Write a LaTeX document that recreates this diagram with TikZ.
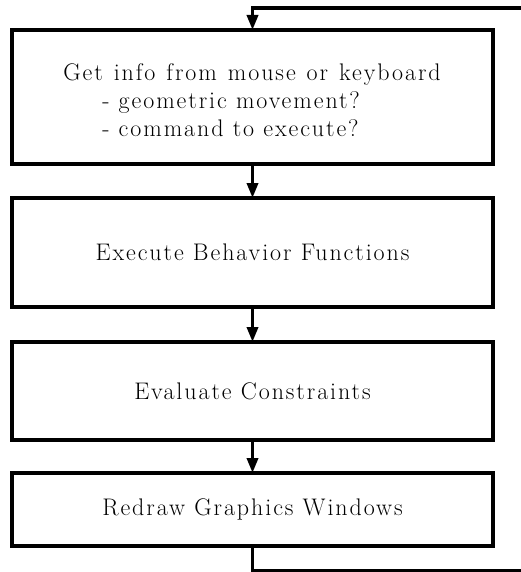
\documentclass[tikz,border=0pt]{standalone}
\usepackage{fontspec}
\setmainfont[LetterSpace=8]{Latin Modern Roman}
\usetikzlibrary{arrows.meta}
\tikzset{
  stepbox/.style={draw, line width=3.5pt, inner sep=0pt, outer sep=0pt, font=\fontsize{24}{28}\selectfont},
  flow/.style={line width=3.5pt, -{Triangle[width=11pt,length=15pt]}},
  loopline/.style={line width=3.5pt}
}
\begin{document}
\begin{tikzpicture}[x=1pt,y=1pt]
\useasboundingbox (0,0) rectangle (521,-572);
\node[stepbox, minimum width=481pt, minimum height=134pt] (b1) at (252.5,-97) {};
\node[font=\fontsize{24}{28}\selectfont, align=left] (t1) at (252,-100) {{\spaceskip=11pt\relax Get info from mouse or keyboard}\\\hspace{39pt}- geometric movement?\\\hspace{39pt}- command to execute?};
\node[stepbox, minimum width=481pt, minimum height=109pt] (b2) at (252.5,-252.5) {Execute Behavior Functions};
\node[stepbox, minimum width=481pt, minimum height=98pt] (b3) at (252.5,-391) {Evaluate Constraints};
\node[stepbox, minimum width=481pt, minimum height=73pt] (b4) at (252.5,-509.5) {Redraw Graphics Windows};
\draw[flow] (b1.south) -- (b2.north);
\draw[flow] (b2.south) -- (b3.north);
\draw[flow] (b3.south) -- (b4.north);
\coordinate (lb) at (252.5,-571);
\coordinate (rb) at (523,-571);
\coordinate (rt) at (523,-8);
\coordinate (lt) at (252.5,-8);
\draw[loopline] (b4.south) -- (lb) -- (rb);
\draw[flow] (rt) -- (lt) -- (b1.north);
\end{tikzpicture}
\end{document}
